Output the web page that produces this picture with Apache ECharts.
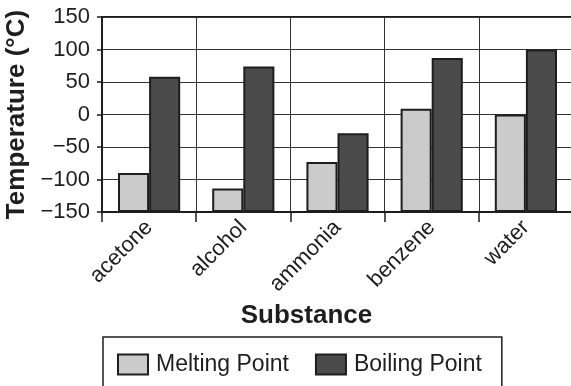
<!DOCTYPE html>
<html>
<head>
<meta charset="utf-8">
<script src="https://cdn.jsdelivr.net/npm/echarts@6/dist/echarts.min.js"></script>
<style>
  html, body { margin: 0; padding: 0; background: #fff; }
  #chart { width: 571px; height: 386px; }
</style>
</head>
<body>
<div id="chart"></div>
<script>
// data
var substances = ['acetone', 'alcohol', 'ammonia', 'benzene', 'water'];
var meltingPoint = [-90, -114, -73, 9, 0];
var boilingPoint = [58, 74, -29, 87, 100];

// bars grow up from the -150 floor, so the plotted axis is shifted by 150
var floor = -150;
function fromFloor(arr) {
    return arr.map(function (v) { return v - floor; });
}

var fontName = '"Liberation Sans", Arial, sans-serif';
var ink = '#1e1e1e';

var myChart = echarts.init(document.getElementById('chart'));

var option = {
    animation: false,
    textStyle: { fontFamily: fontName, color: ink },
    grid: {
        left: 102,
        top: 17,
        right: -2,
        height: 195,
        outerBoundsMode: 'none',
        containLabel: false,
        show: true,
        borderColor: ink,
        borderWidth: 2
    },
    legend: {
        data: ['Melting Point', 'Boiling Point'],
        icon: 'rect',
        left: 103,
        top: 337,
        orient: 'horizontal',
        padding: [16, 20, 40, 14],
        borderColor: ink,
        borderWidth: 1.5,
        itemWidth: 30,
        itemHeight: 20,
        itemGap: 26,
        textStyle: { fontSize: 23, color: ink, fontFamily: fontName, padding: [0, 0, 0, 3] }
    },
    xAxis: {
        type: 'category',
        data: substances,
        name: 'Substance',
        nameLocation: 'middle',
        nameGap: 90,
        nameTextStyle: { fontSize: 26, fontWeight: 'bold', color: ink, padding: [0, 62, 0, 0] },
        axisLine: { lineStyle: { color: ink, width: 2 } },
        axisTick: { show: true, length: 10, lineStyle: { color: ink, width: 1.5 } },
        splitLine: { show: true, lineStyle: { color: '#333', width: 1 } },
        axisLabel: { rotate: 45, fontSize: 22, color: ink, margin: 12, interval: 0 }
    },
    yAxis: {
        type: 'value',
        min: 0,
        max: 300,
        interval: 50,
        name: 'Temperature (°C)',
        nameLocation: 'middle',
        nameGap: 64,
        nameTextStyle: { fontSize: 26, fontWeight: 'bold', color: ink },
        axisLine: { show: true, lineStyle: { color: ink, width: 2 } },
        axisTick: { show: true, length: 5, lineStyle: { color: ink, width: 1.5 } },
        splitLine: { lineStyle: { color: '#333', width: 1 } },
        axisLabel: {
            fontSize: 22,
            color: ink,
            margin: 12,
            formatter: function (v) { return String(v + floor).replace('-', '\u2212'); }
        }
    },
    series: [
        {
            name: 'Melting Point',
            type: 'bar',
            data: fromFloor(meltingPoint),
            barGap: '0%',
            barCategoryGap: '34%',
            itemStyle: { color: '#cbcbcb', borderColor: ink, borderWidth: 2 }
        },
        {
            name: 'Boiling Point',
            type: 'bar',
            data: fromFloor(boilingPoint),
            itemStyle: { color: '#4b4b4b', borderColor: ink, borderWidth: 2 }
        }
    ]
};
myChart.setOption(option);
</script>
</body>
</html>
